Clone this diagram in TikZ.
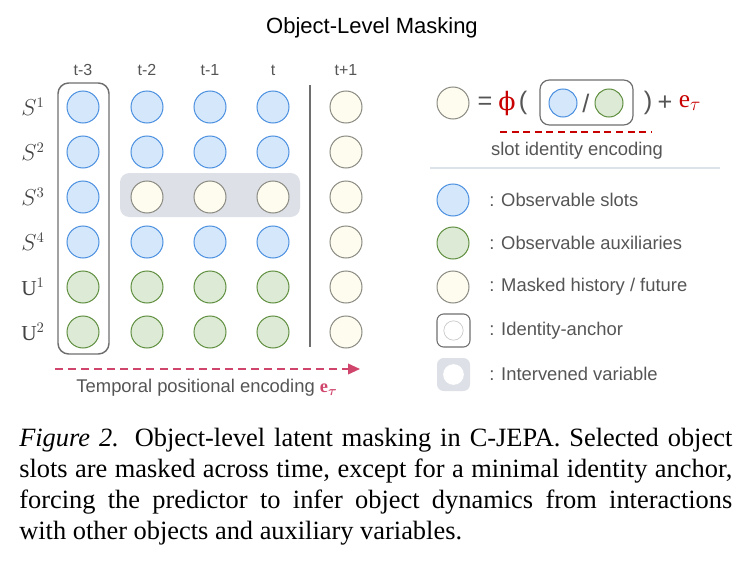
\documentclass[tikz,border=0pt]{standalone}
\usepackage{fontspec}
\usepackage{amsmath}
\setmainfont{Liberation Serif}
\setsansfont{Liberation Sans}
\newfontfamily\phifont{DejaVu Serif}
\usetikzlibrary{arrows.meta}

\definecolor{slotblue}{HTML}{D5E8FB}
\definecolor{slotblueline}{HTML}{4A8FE0}
\definecolor{auxgreen}{HTML}{DDEBD6}
\definecolor{auxgreenline}{HTML}{5E8E3E}
\definecolor{maskcream}{HTML}{FEFCEE}
\definecolor{maskline}{HTML}{8A8A82}
\definecolor{intervgray}{HTML}{DDE0E7}
\definecolor{anchorline}{HTML}{6E6E6E}
\definecolor{labelgray}{HTML}{555555}
\definecolor{encred}{HTML}{C80000}
\definecolor{arrowpink}{HTML}{D0456C}
\definecolor{rulegray}{HTML}{DCE3EA}
\definecolor{ringgray}{HTML}{C8C8C8}

\tikzset{
  slot/.style={circle, minimum size=24pt, inner sep=0pt, line width=0.75pt},
  obsslot/.style={slot, draw=slotblueline, fill=slotblue},
  auxslot/.style={slot, draw=auxgreenline, fill=auxgreen},
  maskslot/.style={slot, draw=maskline, fill=maskcream},
  graytext/.style={text=labelgray, inner sep=0pt, font=\sffamily\fontsize{13.8}{16}\selectfont},
  timetext/.style={text=labelgray, inner sep=0pt, font=\sffamily\fontsize{12}{14}\selectfont},
  rowtext/.style={text=labelgray!80!black, inner sep=0pt, font=\fontsize{16}{18}\selectfont},
  eqtext/.style={text=labelgray, inner sep=0pt, font=\sffamily\fontsize{19}{22}\selectfont},
}

\begin{document}
\begin{tikzpicture}[x=0.75pt, y=-0.75pt]
    \useasboundingbox (0,0) rectangle (740,564);

    % Drawing Parameters (pixels)
    \pgfmathsetmacro{\toprow}{107}%
    \pgfmathsetmacro{\rowgap}{45}%
    \pgfmathsetmacro{\anchorx}{83}%
    \pgfmathsetmacro{\futurex}{346}%
    \pgfmathsetmacro{\keyx}{453}%

    % Title
    \node[font=\sffamily\fontsize{16.5}{20}\selectfont] (title) at (372,28) {Object-Level Masking};

    % Intervened band and identity anchor, behind the slots
    \fill[intervgray, rounded corners=7pt] (120,173) rectangle (300,217);
    \draw[anchorline, line width=1.1pt, rounded corners=8pt] (58,83) rectangle (109,354);

    % Time headers
    \foreach \x/\lab [count=\c] in {83/t-3,147/t-2,210/t-1,273/t,346/t+1}
        \node[timetext] (head-\c) at (\x,70) {\lab};

    % Row labels
    \foreach \lab [count=\r] in {$S^1$,$S^2$,$S^3$,$S^4$,$\mathrm{U}^1$,$\mathrm{U}^2$}
        \node[rowtext] (row-\r) at (33,{\toprow+(\r-1)*\rowgap}) {\lab};

    % Anchor column t-3 stays observed
    \foreach \r/\kind in {1/obsslot,2/obsslot,3/obsslot,4/obsslot,5/auxslot,6/auxslot}
        \node[\kind] (s-1-\r) at (\anchorx,{\toprow+(\r-1)*\rowgap}) {};
    % Columns t-2 .. t, S^3 masked
    \foreach \x [count=\c from 2] in {147,210,273}
        \foreach \r/\kind in {1/obsslot,2/obsslot,3/maskslot,4/obsslot,5/auxslot,6/auxslot}
            \node[\kind] (s-\c-\r) at (\x,{\toprow+(\r-1)*\rowgap}) {};
    % Future step t+1
    \foreach \r in {1,...,6}
        \node[maskslot] (s-5-\r) at (\futurex,{\toprow+(\r-1)*\rowgap}) {};

    % History / future divider
    \draw[anchorline, line width=1.4pt] (310,85) -- (310,347);

    % Temporal encoding arrow
    \coordinate (time-start) at (55,369);
    \coordinate (time-end) at (360,369);
    \draw[arrowpink, line width=1.2pt, dash pattern=on 6pt off 3.8pt,
          -{Triangle[length=9pt, width=8pt]}] (time-start) -- (time-end);
    \node[graytext] (time-label) at (207,388)
        {Temporal positional encoding {\rmfamily\bfseries\color{arrowpink}e$_{\boldsymbol{\tau}}$}};

    % Slot identity equation
    \node[maskslot] (eq-out) at (\keyx,103) {};
    \node[eqtext] (eq-sign) at (485,103) {=};
    \node[eqtext, text=encred] (eq-phi) at (507,104) {\phifont ϕ};
    \node[eqtext] (eq-open) at (523,103) {(};
    \node[draw=anchorline, line width=0.9pt, rounded corners=7pt, minimum width=69.75pt,
          minimum height=33.75pt, inner sep=0pt] (eq-box) at (586.5,102.5) {};
    \node[obsslot, minimum size=21pt] (eq-obs) at (563,103) {};
    \node[eqtext] (eq-slash) at (586,103) {/};
    \node[auxslot, minimum size=21pt] (eq-aux) at (609,103) {};
    \node[eqtext] (eq-close) at (648,103) {)};
    \node[eqtext] (eq-plus) at (665,103) {+};
    \node[eqtext, text=encred] (eq-enc) at (690,103) {\rmfamily e$_{\tau}$};

    \coordinate (enc-start) at (500,132);
    \coordinate (enc-end) at (652,132);
    \draw[encred, line width=1.4pt, dash pattern=on 5.2pt off 3.5pt] (enc-start) -- (enc-end);
    \node[graytext] (enc-label) at (577,151) {slot identity encoding};

    % Separator
    \draw[rulegray, line width=1pt] (430,168) -- (720,168);

    % Legend
    \node[obsslot] (key-obs) at (\keyx,200) {};
    \node[graytext, anchor=west] (key-obs-text) at (489,200) {: Observable slots};
    \node[auxslot] (key-aux) at (\keyx,243) {};
    \node[graytext, anchor=west] (key-aux-text) at (489,243) {: Observable auxiliaries};
    \node[maskslot] (key-mask) at (\keyx,287) {};
    \node[graytext, anchor=west] (key-mask-text) at (489,287) {: Masked history / future};
    \node[draw=anchorline, line width=0.8pt, rounded corners=5pt, minimum size=24.75pt,
          inner sep=0pt] (key-anchor) at (453.5,330.5) {};
    \node[circle, draw=ringgray, line width=0.5pt, fill=white, minimum size=14.5pt,
          inner sep=0pt] (key-anchor-ring) at (key-anchor) {};
    \node[graytext, anchor=west] (key-anchor-text) at (489,331) {: Identity-anchor};
    \node[fill=intervgray, rounded corners=5pt, minimum size=24.75pt,
          inner sep=0pt] (key-interv) at (453.5,374.5) {};
    \node[circle, fill=white, minimum size=15.5pt, inner sep=0pt] (key-interv-ring) at (key-interv) {};
    \node[graytext, anchor=west] (key-interv-text) at (489,374) {: Intervened variable};

    % Caption
    \node[anchor=north west, inner sep=0pt, text width=534.75pt, align=justify,
          font=\rmfamily\fontsize{19.8}{23.2}\selectfont] (caption) at (19,428)
        {\noindent\textit{Figure 2.} Object-level latent masking in C-JEPA. Selected object\linebreak
         slots are masked across time, except for a minimal identity anchor,\linebreak
         forcing the predictor to infer object dynamics from interactions\linebreak
         with other objects and auxiliary variables.};
\end{tikzpicture}
\end{document}
